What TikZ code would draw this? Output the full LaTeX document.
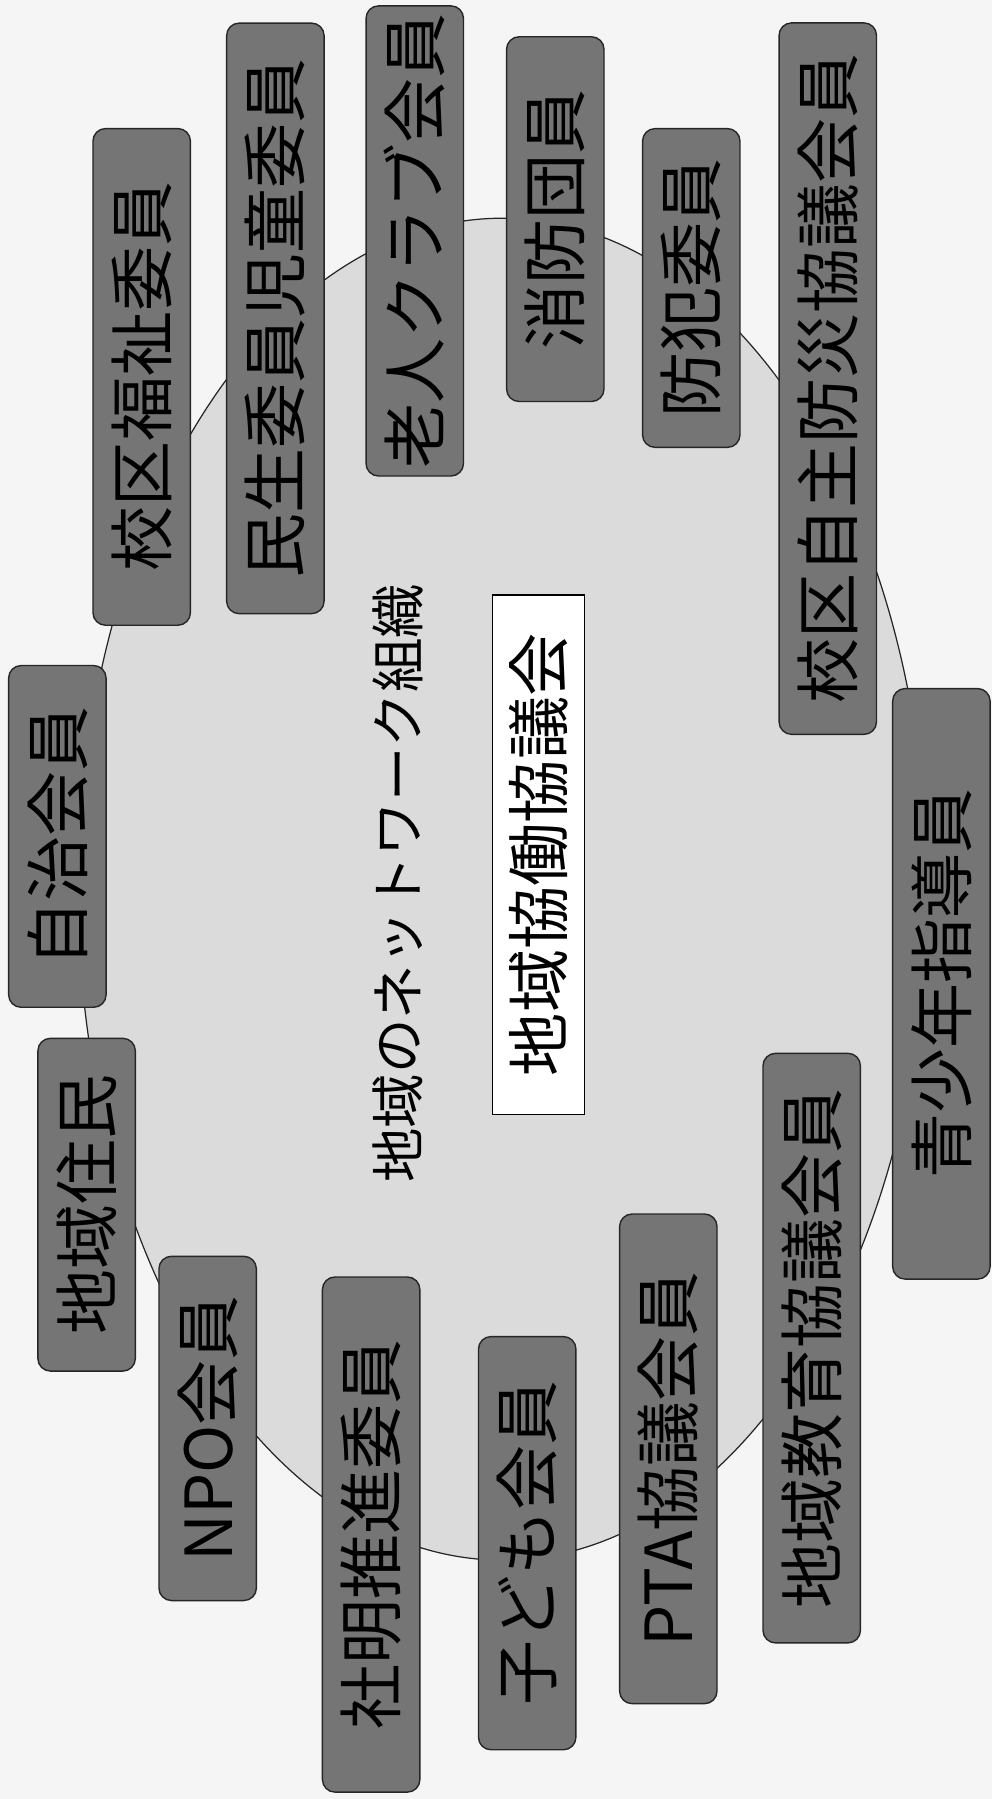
\documentclass[tikz,border=0pt]{standalone}
\usepackage{fontspec}
\setmainfont{Noto Sans CJK JP}
\usepackage{tikz}
\usetikzlibrary{shapes.geometric, positioning}

\begin{document}
\begin{tikzpicture}[
    x=0.02296cm, y=-0.02296cm,
    member/.style={rectangle, rounded corners=0.25cm, draw=black!85, fill=black!54, line width=0.8pt, rotate=90, minimum height=1.95cm, inner sep=0pt, font=\fontsize{37}{37}\selectfont},
    council/.style={rectangle, draw, fill=white, line width=0.8pt, rotate=90, minimum width=10.40cm, minimum height=1.84cm, inner sep=0pt, font=\fontsize{36}{36}\selectfont},
    heading/.style={rotate=90, inner sep=0pt, font=\fontsize{31}{31}\selectfont}
]

% Page
\fill[black!4] (0,0) rectangle (865,1568);
\useasboundingbox (0,0) rectangle (865,1568);

% Outer ring
\node[ellipse, draw=black!85, fill=black!14, line width=0.7pt, minimum width=16.99cm, minimum height=26.86cm] (ring) at (438,775) {};

% Centre
\node[heading] (title) at (347,770) {地域のネットワーク組織};
\node[council] (council) at (469.5,745) {地域協働協議会};

% Members round the ring
\node[member, minimum width=6.66cm] (jumin) at (75.5,1050) {地域住民};
\node[member, minimum width=6.84cm] (jichikai) at (50,729) {自治会員};
\node[member, minimum width=9.94cm] (fukushi) at (123.5,328.5) {校区福祉委員};
\node[member, minimum width=11.82cm] (minsei) at (240,277.5) {民生委員児童委員};
\node[member, minimum width=9.41cm] (roujin) at (361.5,210) {老人クラブ会員};
\node[member, minimum width=7.30cm] (shoubou) at (484,191) {消防団員};
\node[member, minimum width=6.38cm] (bouhan) at (602.5,251) {防犯委員};
\node[member, minimum width=14.24cm] (bousai) at (721.5,330) {校区自主防災協議会員};
\node[member, minimum width=11.82cm] (seishounen) at (820.5,857.5) {青少年指導員};
\node[member, minimum width=11.80cm] (kyouiku) at (707.5,1175) {地域教育協議会員};
\node[member, minimum width=9.80cm] (pta) at (582.5,1271.5) {PTA協議会員};
\node[member, minimum width=8.27cm] (kodomo) at (459.5,1345) {子ども会員};
\node[member, minimum width=10.31cm] (shamei) at (323.5,1337.5) {社明推進委員};
\node[member, minimum width=6.89cm] (npo) at (181,1245) {NPO会員};

\end{tikzpicture}
\end{document}
